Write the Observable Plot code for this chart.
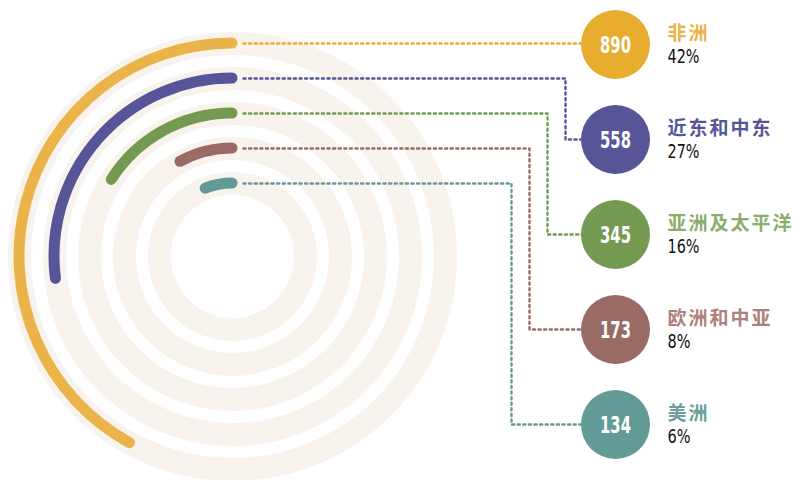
<!DOCTYPE html>
<html><head><meta charset="utf-8">
<script src="https://cdn.jsdelivr.net/npm/d3@7"></script>
<script src="https://cdn.jsdelivr.net/npm/@observablehq/plot@0.6"></script>
<style>body{margin:0;background:#fff} svg{display:block}</style>
</head><body><div id="chart"></div>
<script>
// ---- data ----
const regions = ["非洲", "近东和中东", "亚洲及太平洋", "欧洲和中亚", "美洲"];
const values = [890, 558, 345, 173, 134];
const sharePct = [42, 27, 16, 8, 6];
const shareLabels = ["42%", "27%", "16%", "8%", "6%"];
const arcColors = ["#ebb44a", "#575597", "#749a52", "#9a6b65", "#629a98"];
const bubbleColors = ["#e8ac2f", "#575597", "#749a52", "#9a6b65", "#629a98"];
const nameColors = ["#eab44a", "#575597", "#8cae6d", "#ad827d", "#6a9f9c"];
const lineColors = ["#eeaa2c", "#575597", "#749a52", "#9a6b65", "#629a98"];

// ---- layout ----
const W = 797, H = 480;
const cx = 232, cy = 256, r0 = 213, ringStep = 35, ringWidth = 23, arcWidth = 11;
const bubbleX = 615, bubbleY0 = 44, bubbleStep = 95, bubbleR = 34.5;
const turnX0 = 565, turnStep = 18;
const narrow = "'Liberation Sans Narrow', 'DejaVu Sans Condensed', 'Roboto', sans-serif";
const cjk = "'Noto Sans CJK SC', sans-serif";

const rows = regions.map((name, i) => ({
  name, i, value: values[i], pct: sharePct[i], share: shareLabels[i],
  r: r0 - i * ringStep,
  by: bubbleY0 + i * bubbleStep
}));

const conn = rows.flatMap(d => {
  const ya = cy - d.r, xs = cx + 11;
  const tx = turnX0 - (d.i - 1) * turnStep;
  const pts = d.i === 0
    ? [[xs, ya], [bubbleX, ya]]
    : [[xs, ya], [tx, ya], [tx, d.by], [bubbleX, d.by]];
  return pts.map(([x, y]) => ({name: d.name, i: d.i, x, y}));
});

const arcsMark = (index, scales) => {
  const g = d3.create("svg:g");
  const X = scales.x(cx), Y = scales.y(cy);
  rows.forEach(d => {
    const theta = d.pct / 100 * 2 * Math.PI;
    const p = d3.path();
    p.moveTo(X, Y - d.r);
    p.arc(X, Y, d.r, -Math.PI / 2, -Math.PI / 2 - theta, true);
    g.append("path")
      .attr("d", p.toString())
      .attr("fill", "none")
      .attr("stroke", arcColors[d.i])
      .attr("stroke-width", arcWidth)
      .attr("stroke-linecap", "round");
  });
  return g.node();
};

const chart = Plot.plot({
  width: W, height: H,
  margin: 0,
  x: {domain: [0, W], range: [0, W], axis: null},
  y: {domain: [0, H], range: [0, H], axis: null},
  r: {type: "identity"},
  color: {type: "identity"},
  style: {background: "white"},
  marks: [
    Plot.dot(rows, {x: () => cx, y: () => cy, r: "r", stroke: "#f8f3ed", strokeWidth: ringWidth, fill: "none"}),
    arcsMark,
    Plot.line(conn, {x: "x", y: "y", z: "name", stroke: d => lineColors[d.i], strokeWidth: 2.4, strokeDasharray: "2.1,3.5", curve: "linear"}),
    Plot.dot(rows, {x: () => bubbleX, y: "by", r: () => bubbleR, fill: d => bubbleColors[d.i], stroke: "none"}),
    Plot.text(rows, {x: () => bubbleX, y: d => d.by + 1, text: d => String(d.value), fill: "white", fontSize: 22.5, fontWeight: "bold", fontFamily: narrow}),
    Plot.text(rows, {x: () => bubbleX + 52, y: d => d.by - 11, text: "name", textAnchor: "start", fill: d => nameColors[d.i], fontSize: 19, fontWeight: "bold", fontFamily: cjk}),
    Plot.text(rows, {x: () => bubbleX + 52, y: d => d.by + 12, text: "share", textAnchor: "start", fill: "#111", fontSize: 20, fontFamily: narrow})
  ]
});
chart.querySelectorAll("text").forEach(t => {
  const s = t.textContent;
  if (/[\u4e00-\u9fff]/.test(s)) {
    t.setAttribute("letter-spacing", "2");
  } else if (/^\d+$/.test(s)) {
    t.setAttribute("textLength", (s.length * 10.3).toFixed(1));
    t.setAttribute("lengthAdjust", "spacingAndGlyphs");
  } else if (/^\d+%$/.test(s)) {
    t.setAttribute("textLength", ((s.length - 1) * 9 + 14).toFixed(1));
    t.setAttribute("lengthAdjust", "spacingAndGlyphs");
  }
});
document.getElementById("chart").appendChild(chart);
</script>
</body></html>
